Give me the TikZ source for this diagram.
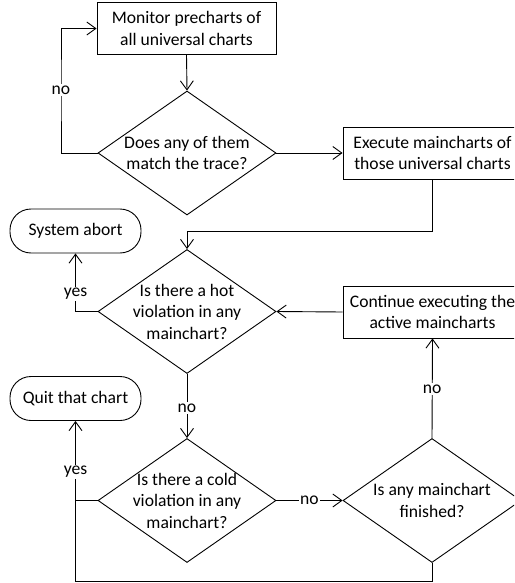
\documentclass[tikz,border=0pt]{standalone}
\usepackage{fontspec}
\setmainfont{Carlito}
\usetikzlibrary{shapes.geometric,arrows.meta}

\tikzset{
  base/.style={draw=black, line width=0.9pt, align=center, inner sep=0pt,
               font=\fontsize{17.6}{21.5}\selectfont},
  procbox/.style={base, rectangle, minimum width=179pt, minimum height=52pt},
  termbox/.style={base, rectangle, rounded corners=21pt, minimum width=131pt, minimum height=44pt},
  decision/.style={base, diamond, shape aspect=1.435, inner sep=-8pt,
                   minimum width=178pt, minimum height=124pt},
  flow/.style={draw=black, line width=0.9pt},
  arr/.style={flow, -{Straight Barb[length=9pt,width=13pt,line width=0.9pt]}},
  lbl/.style={fill=white, inner sep=1.5pt, font=\fontsize{17.6}{21.5}\selectfont}
}

\begin{document}
\begin{tikzpicture}[x=1pt, y=-1pt]
\clip (0,0) rectangle (514,583);

% process boxes and decisions
\node[procbox]  (mon)  at (186.5,28.5) {Monitor precharts of\\all universal charts};
\node[decision] (d1)   at (187,153)    {Does any of them\\match the trace?};
\node[procbox]  (exe)  at (432.5,153)  {Execute maincharts of\\those universal charts};
\node[decision] (d2)   at (187,311.5)  {Is there a hot\\violation in any\\mainchart?};
\node[procbox]  (cont) at (432.5,312)  {Continue executing the\\active maincharts};
\node[termbox]  (abrt) at (75.5,231)   {System abort};
\node[termbox]  (quit) at (75.5,398.5) {Quit that chart};
\node[decision] (d3)   at (187,500.5)  {Is there a cold\\violation in any\\mainchart?};
\node[decision] (d4)   at (432,500.5)  {Is any mainchart\\finished?};

% helper points for the routed connectors
\coordinate (lp)  at (61,90);
\coordinate (j1)  at (187,231);
\coordinate (bot) at (75.5,581);

% connectors
\draw[arr] (mon.south) -- (d1.north);
\draw[arr] (d1.west) -| (lp) node[lbl] {no} |- (mon.west);
\draw[arr] (d1.east) -- (exe.west);
\draw[arr] (exe.south) |- (j1) -- (d2.north);
\draw[arr] (d2.west) -| node[lbl, pos=0.65] {yes} (abrt.south);
\draw[arr] (cont.west) -- (d2.east);
\draw[arr] (d2.south) -- node[lbl, pos=0.53] {no} (d3.north);
\draw[arr] (d4.north) -- node[lbl, pos=0.49] {no} (cont.south);
\draw[arr] (d3.east) -- node[lbl, pos=0.5] {no} (d4.west);
\draw[arr] (d3.west) -| node[lbl, pos=0.68] {yes} (quit.south);
\draw[flow] (d4.south) |- (bot) -- (d3.west -| quit.south);
\end{tikzpicture}
\end{document}
